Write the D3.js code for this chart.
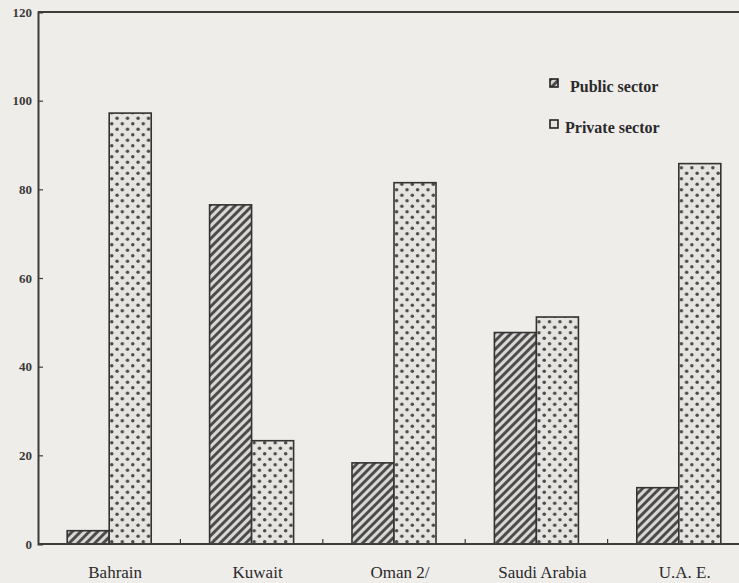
<!DOCTYPE html>
<html>
<head>
<meta charset="utf-8">
<script src="https://cdn.jsdelivr.net/npm/d3@7"></script>
<style>
  html, body { margin: 0; padding: 0; background: #efedea; }
  svg { display: block; }
  text { font-family: "Liberation Serif", "Times New Roman", "DejaVu Serif", serif; }
</style>
</head>
<body>
<svg id="chart" width="739" height="583"></svg>
<script>
const categories = ["Bahrain", "Kuwait", "Oman 2/", "Saudi Arabia", "U.A. E."];
const seriesNames = ["Public sector", "Private sector"];
const publicValues = [3, 76.5, 18.3, 47.7, 12.7];
const privateValues = [97.2, 23.3, 81.5, 51.2, 85.8];
const yTicks = [0, 20, 40, 60, 80, 100, 120];

(function () {
const svg = d3.select("#chart");
const W = 739, H = 583;
const mLeft = 38, mRight = 750, mTop = 12, mBottom = 544;

svg.append("rect").attr("width", W).attr("height", H).attr("fill", "#efedea");

const defs = svg.append("defs");
const hatch = defs.append("pattern").attr("id", "hatch")
  .attr("patternUnits", "userSpaceOnUse").attr("width", 6).attr("height", 6)
  .attr("patternTransform", "rotate(45)");
hatch.append("rect").attr("width", 6).attr("height", 6).attr("fill", "#d9d7d4");
hatch.append("line").attr("x1", 1.5).attr("y1", 0).attr("x2", 1.5).attr("y2", 6)
  .attr("stroke", "#444").attr("stroke-width", 2.8);

const dots = defs.append("pattern").attr("id", "dots")
  .attr("patternUnits", "userSpaceOnUse").attr("width", 10.5).attr("height", 11);
dots.append("rect").attr("width", 10.5).attr("height", 11).attr("fill", "#e6e4e1");
dots.append("circle").attr("cx", 2.6).attr("cy", 2.75).attr("r", 1.7).attr("fill", "#4a4a4a");
dots.append("circle").attr("cx", 7.85).attr("cy", 8.25).attr("r", 1.7).attr("fill", "#4a4a4a");

const x0 = d3.scaleBand().domain(categories).range([mLeft, mRight])
  .paddingInner(0.41).paddingOuter(0.205);
const x1 = d3.scaleBand().domain(seriesNames).range([0, x0.bandwidth()]);
const y = d3.scaleLinear().domain([0, 120]).range([mBottom, mTop]);

const data = categories.map((c, i) => ({
  cat: c,
  vals: [
    { s: seriesNames[0], v: publicValues[i] },
    { s: seriesNames[1], v: privateValues[i] }
  ]
}));
const fillFor = s => s === seriesNames[0] ? "url(#hatch)" : "url(#dots)";

const groups = svg.append("g").selectAll("g").data(data).join("g")
  .attr("transform", d => `translate(${x0(d.cat)},0)`);
groups.selectAll("rect").data(d => d.vals).join("rect")
  .attr("x", d => x1(d.s))
  .attr("y", d => y(d.v))
  .attr("width", x1.bandwidth())
  .attr("height", d => y(0) - y(d.v))
  .attr("fill", d => fillFor(d.s))
  .attr("stroke", "#333")
  .attr("stroke-width", 1.6);

const lineColor = "#3c3c3c";
svg.append("line").attr("x1", mLeft).attr("x2", W).attr("y1", mTop).attr("y2", mTop)
  .attr("stroke", lineColor).attr("stroke-width", 2);

const yAxis = d3.axisRight(y).tickValues(yTicks).tickSize(5).tickFormat("");
const ya = svg.append("g").attr("transform", `translate(${mLeft},0)`).call(yAxis);
ya.select(".domain").attr("stroke", lineColor).attr("stroke-width", 2);
ya.selectAll(".tick line").attr("stroke", lineColor).attr("stroke-width", 1.2);
svg.append("g").selectAll("text").data(yTicks).join("text")
  .attr("x", mLeft - 6).attr("y", d => y(d) + 4.5)
  .attr("text-anchor", "end")
  .attr("font-weight", "bold")
  .attr("font-size", 13)
  .attr("fill", "#3a3a3a")
  .text(d => d);

const step = x0.step();
const boundaries = categories.slice(1).map(c => x0(c) - step * x0.paddingInner() / 2);
svg.append("line").attr("x1", mLeft).attr("x2", W).attr("y1", mBottom).attr("y2", mBottom)
  .attr("stroke", lineColor).attr("stroke-width", 2);
svg.append("g").selectAll("line").data(boundaries).join("line")
  .attr("x1", d => d).attr("x2", d => d)
  .attr("y1", mBottom).attr("y2", mBottom - 5)
  .attr("stroke", lineColor).attr("stroke-width", 1.2);

svg.append("g").selectAll("text").data(categories).join("text")
  .attr("x", d => x0(d) + x0.bandwidth() / 2 + 6)
  .attr("y", 578)
  .attr("text-anchor", "middle")
  .attr("font-size", 17)
  .attr("fill", "#2a2a2a")
  .text(d => d);

const legend = svg.append("g");
const legendItems = [
  { s: seriesNames[0], sx: 550, sy: 79, tx: 570, ty: 92 },
  { s: seriesNames[1], sx: 550, sy: 120, tx: 565, ty: 133 }
];
legend.selectAll("rect").data(legendItems).join("rect")
  .attr("x", d => d.sx).attr("y", d => d.sy)
  .attr("width", 8).attr("height", 8)
  .attr("fill", d => fillFor(d.s))
  .attr("stroke", "#222").attr("stroke-width", 1.6);
legend.selectAll("text").data(legendItems).join("text")
  .attr("x", d => d.tx).attr("y", d => d.ty)
  .attr("font-weight", "bold")
  .attr("font-size", 16)
  .attr("fill", "#2a2a2a")
  .text(d => d.s);
})();
</script>
</body>
</html>
